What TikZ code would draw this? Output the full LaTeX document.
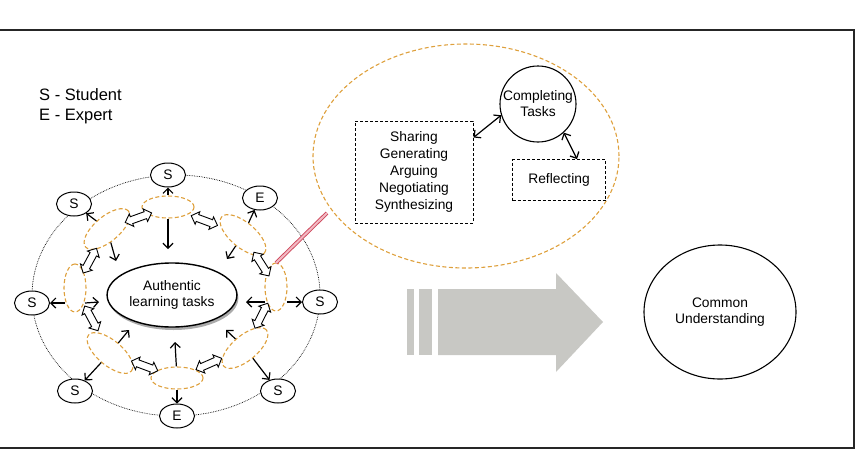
\documentclass[tikz,border=0pt]{standalone}
\usepackage{fontspec}
\setmainfont{Liberation Sans}
\usetikzlibrary{shapes.geometric,shapes.arrows,arrows.meta,calc,shadows}
\definecolor{ringorange}{RGB}{222,160,60}
\definecolor{biggray}{RGB}{200,200,196}
\definecolor{calloutred}{RGB}{205,70,90}
\definecolor{calloutpink}{RGB}{242,185,195}
\begin{document}
\begin{tikzpicture}[x=1pt,y=-1pt,
  every node/.style={font=\fontsize{13.8}{16}\selectfont},
  person/.style={ellipse, draw, line width=1pt, fill=white, minimum width=35pt, minimum height=24pt, inner sep=0pt},
  ringell/.style={ellipse, draw=ringorange, dash pattern=on 4pt off 2.5pt, line width=1.1pt, minimum width=52pt, minimum height=22pt, inner sep=0pt},
  diagell/.style={ringell, minimum width=56pt, minimum height=25pt},
  dblarr/.style={double arrow, draw, fill=white, line width=0.9pt, minimum height=28pt, inner xsep=0pt, inner ysep=3.2pt, double arrow head extend=3pt},
  arr/.style={-{Straight Barb[length=5pt,width=10pt]}, line width=1.2pt},
  darr/.style={{Straight Barb[length=5pt,width=10pt]}-{Straight Barb[length=5pt,width=10pt]}, line width=1.2pt},
  dashbox/.style={draw, dash pattern=on 3pt off 2pt, line width=1pt, align=center, inner sep=0pt},
  callout/.style={draw=calloutred, double=calloutpink, double distance=2pt, line width=0.9pt},
]
\useasboundingbox (0,0) rectangle (856,450);
% frame
\draw[line width=1.5pt, black!85] (0,30) -- (854,30) -- (854,448) -- (0,448);

% legend
\node[anchor=north west, inner sep=0pt, align=left, font=\fontsize{16.5}{20.5}\selectfont] (legend) at (39,88) {S - Student\\E - Expert};

% outer dotted ring
\draw[densely dotted, line width=0.7pt] (176,295.5) ellipse [x radius=144, y radius=120.5];

% central ellipse
\node[ellipse, draw, line width=1.4pt, fill=white, minimum width=129pt, minimum height=64pt, align=center,
  drop shadow={shadow xshift=1.5pt, shadow yshift=-3pt, fill=black!55, opacity=0.6}] (cen) at (172,295) {Authentic\\learning tasks};

% ring ellipses
\node[ringell] (rT) at (168,207) {};
\node[diagell, rotate=-40] (rTR) at (243,235) {};
\node[ringell, rotate=90, minimum width=48pt] (rR) at (276,287) {};
\node[diagell, rotate=40] (rBR) at (245,348) {};
\node[ringell] (rB) at (177,378) {};
\node[diagell, rotate=-40] (rBL) at (110,353) {};
\node[ringell, rotate=90, minimum width=48pt] (rL) at (75,288) {};
\node[diagell, rotate=40] (rTL) at (107,229) {};

% outer people
\node[person] (sT) at (168,175) {S};
\node[person] (eTR) at (260,198) {E};
\node[person] (sR) at (320,302) {S};
\node[person] (sBR) at (278,391) {S};
\node[person] (eB) at (177,416) {E};
\node[person] (sBL) at (75,391) {S};
\node[person] (sL) at (32,303) {S};
\node[person] (sTL) at (74,204) {S};

% inner arrow tips
\coordinate (tT) at (168,249);
\coordinate (tTR) at (227,259);
\coordinate (tR) at (246,302);
\coordinate (tBR) at (226,330);
\coordinate (tB) at (175,342);
\coordinate (tBL) at (129,330);
\coordinate (tL) at (99,302);
\coordinate (tTL) at (116,261);

% inward arrows
\draw[arr] (rT) -- (tT);
\draw[arr] (rTR) -- (tTR);
\draw[arr] ($(rR.center |- sR)+(-11,0)$) -- (tR);
\draw[arr] (rBR) -- (tBR);
\draw[arr] (rB) -- (tB);
\draw[arr] (rBL) -- (tBL);
\draw[arr] ($(rL.center |- sL)+(10,0)$) -- (tL);
\draw[arr] (rTL) -- (tTL);

% outward arrows
\draw[arr] (rT) -- (sT);
\draw[arr] (rTR) -- (eTR);
\draw[arr] ($(rR.center |- sR)+(11,0)$) -- (sR);
\draw[arr] (rBR) -- (sBR);
\draw[arr] (rB) -- (eB);
\draw[arr] (rBL) -- (sBL);
\draw[arr] ($(rL.center |- sL)+(-10,0)$) -- (sL);
\draw[arr] (rTL) -- (sTL);

% big zoom ellipse
\node[ellipse, draw=ringorange, dash pattern=on 4pt off 2.5pt, line width=1.1pt, minimum width=306pt, minimum height=224pt] (bigE) at (466,156) {};

% callout line
\coordinate (cStart) at (276,263);
\coordinate (cEnd) at (327,213);
\draw[callout] (cStart) -- (cEnd);

% hollow double arrows between ring ellipses
\path (rTL) -- node[dblarr, sloped] (d1) {} (rT);
\path (rT) -- node[dblarr, sloped] (d2) {} (rTR);
\path (rTR) -- node[dblarr, sloped] (d3) {} (rR);
\path (rR) -- node[dblarr, sloped] (d4) {} (rBR);
\path (rBR) -- node[dblarr, sloped] (d5) {} (rB);
\path (rB) -- node[dblarr, sloped] (d6) {} (rBL);
\path (rBL) -- node[dblarr, sloped] (d7) {} (rL);
\path (rL) -- node[dblarr, sloped] (d8) {} (rTL);

% zoomed detail
\node[dashbox, minimum width=118pt, minimum height=102pt, font=\fontsize{13.8}{17}\selectfont] (share) at (414,172) {Sharing\\Generating\\Arguing\\Negotiating\\Synthesizing};
\node[circle, draw, line width=1.1pt, minimum size=76pt, inner sep=0pt, align=center] (comp) at (538,104) {Completing\\Tasks};
\node[dashbox, minimum width=93pt, minimum height=41pt] (refl) at (559,180) {Reflecting};
\draw[darr] ([yshift=-17pt]share.north east) -- (comp.197);
\draw[darr] (comp.-48) -- ([xshift=18pt]refl.north);

% big gray arrow
\fill[biggray] (407,289) rectangle (414,355);
\fill[biggray] (419,289) rectangle (432,355);
\fill[biggray] (438,289) -- (556,289) -- (556,273) -- (603,322) -- (556,372) -- (556,355) -- (438,355) -- cycle;

% common understanding
\node[ellipse, draw, line width=1.1pt, minimum width=152pt, minimum height=134pt, align=center] (cu) at (720,312) {Common\\Understanding};
\end{tikzpicture}
\end{document}
